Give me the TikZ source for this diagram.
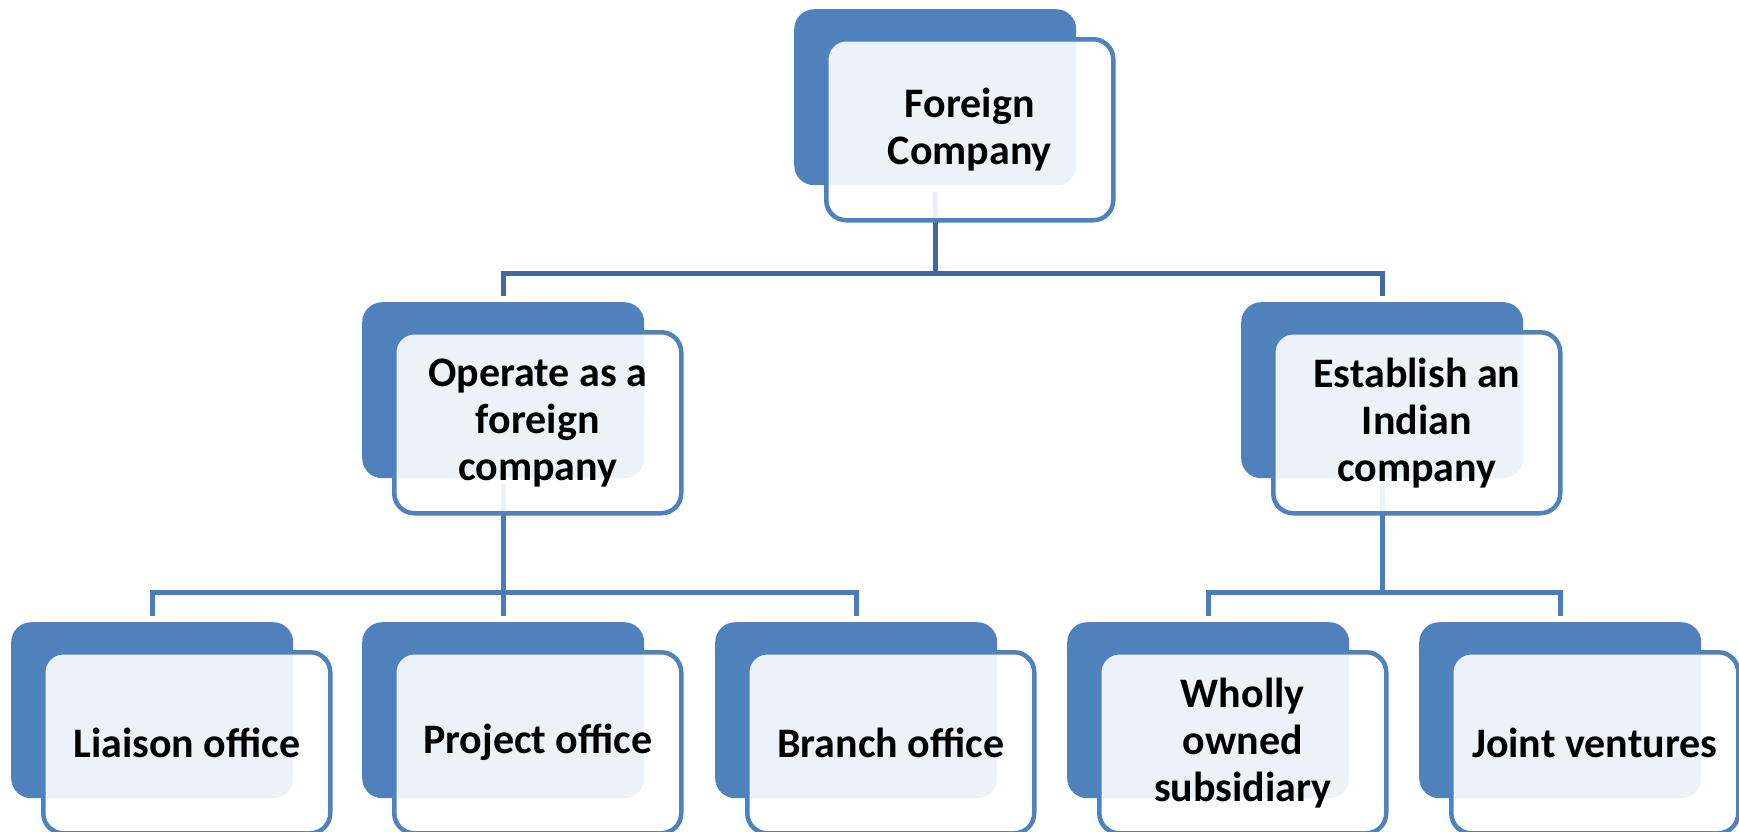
\documentclass[tikz,border=0pt]{standalone}
\usepackage{fontspec}
\setmainfont{Carlito}
\definecolor{accent}{HTML}{4F81BD}
\definecolor{linkdark}{HTML}{41699B}
\definecolor{linkmid}{HTML}{4A7CB9}
\tikzset{
  backbox/.style={rectangle, rounded corners=20pt, fill=accent,
    minimum width=282pt, minimum height=176pt, anchor=north west, inner sep=0pt},
  frontbox/.style={rectangle, rounded corners=20pt, draw=accent, line width=4.5pt,
    fill=white, fill opacity=0.9, text opacity=1,
    minimum width=287pt, minimum height=181pt, anchor=north west, inner sep=0pt,
    align=center, font=\fontsize{42}{47}\selectfont\bfseries},
  link/.style={line width=5pt, draw=linkmid},
  toplink/.style={link, draw=linkdark},
}
\begin{document}
\begin{tikzpicture}[x=1pt, y=-1pt]
\useasboundingbox (0,0) rectangle (1739,831);

% solid back panels
\node[backbox] (fcb) at (794,9) {};
\node[backbox] (opb) at (362,302) {};
\node[backbox] (esb) at (1241,302) {};
\node[backbox] (lob) at (11,622) {};
\node[backbox] (pob) at (362,622) {};
\node[backbox] (bob) at (715,622) {};
\node[backbox] (wsb) at (1067,622) {};
\node[backbox] (jvb) at (1419,622) {};

% bus levels
\coordinate (lv1) at (0,273);
\coordinate (lv2) at (0,592);

% connectors (under the front panels)
\draw[toplink] ([yshift=-7pt]fcb.south) -- (fcb.south |- lv1);
\draw[toplink] ([yshift=6pt]opb.north) |- (fcb.south |- lv1) -| ([yshift=6pt]esb.north);

\draw[link] ([yshift=-6pt]opb.south) -- ([yshift=6pt]pob.north);
\draw[link] ([yshift=6pt]lob.north) |- (opb.south |- lv2) -| ([yshift=6pt]bob.north);

\draw[link] ([yshift=-6pt]esb.south) -- (esb.south |- lv2);
\draw[link] ([yshift=6pt]wsb.north) |- (esb.south |- lv2) -| ([yshift=6pt]jvb.north);

% front panels with labels
\node[frontbox] (fc) at (824,37) {Foreign\\Company};
\node[frontbox] (op) at (392,330) {Operate as a\\foreign\\company};
\node[frontbox] (es) at (1271,330) {Establish an\\Indian\\company};
\node[frontbox] (lo) at (41,650) {Liaison office};
\node[frontbox] (po) at (392,650) {Project office};
\node[frontbox] (bo) at (745,650) {Branch office};
\node[frontbox] (ws) at (1097,650) {Wholly\\owned\\subsidiary};
\node[frontbox] (jv) at (1449,650) {Joint ventures};
\end{tikzpicture}
\end{document}
